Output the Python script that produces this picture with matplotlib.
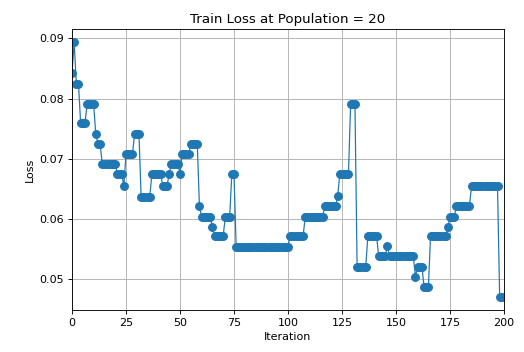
import matplotlib
matplotlib.use('Agg')
import matplotlib.pyplot as plt
import numpy as np

# loss per iteration (rows of 10)
loss = [
    0.0842, 0.0894, 0.0825, 0.0825, 0.0759, 0.0759, 0.0759, 0.0791, 0.0791, 0.0791,
    0.0791, 0.0742, 0.0725, 0.0725, 0.0692, 0.0692, 0.0692, 0.0692, 0.0692, 0.0692,
    0.0692, 0.0675, 0.0675, 0.0675, 0.0655, 0.0708, 0.0708, 0.0708, 0.0708, 0.0742,
    0.0742, 0.0742, 0.0637, 0.0637, 0.0637, 0.0637, 0.0637, 0.0675, 0.0675, 0.0675,
    0.0675, 0.0675, 0.0655, 0.0655, 0.0655, 0.0675, 0.0692, 0.0692, 0.0692, 0.0692,
    0.0675, 0.0708, 0.0708, 0.0708, 0.0708, 0.0725, 0.0725, 0.0725, 0.0725, 0.0621,
    0.0604, 0.0604, 0.0604, 0.0604, 0.0604, 0.0586, 0.0572, 0.0572, 0.0572, 0.0572,
    0.0572, 0.0604, 0.0604, 0.0604, 0.0675, 0.0675, 0.0554, 0.0554, 0.0554, 0.0554,
    0.0554, 0.0554, 0.0554, 0.0554, 0.0554, 0.0554, 0.0554, 0.0554, 0.0554, 0.0554,
    0.0554, 0.0554, 0.0554, 0.0554, 0.0554, 0.0554, 0.0554, 0.0554, 0.0554, 0.0554,
    0.0554, 0.0572, 0.0572, 0.0572, 0.0572, 0.0572, 0.0572, 0.0572, 0.0604, 0.0604,
    0.0604, 0.0604, 0.0604, 0.0604, 0.0604, 0.0604, 0.0604, 0.0621, 0.0621, 0.0621,
    0.0621, 0.0621, 0.0621, 0.0638, 0.0675, 0.0675, 0.0675, 0.0675, 0.0675, 0.0791,
    0.0791, 0.0791, 0.0521, 0.0521, 0.0521, 0.0521, 0.0521, 0.0572, 0.0572, 0.0572,
    0.0572, 0.0572, 0.0538, 0.0538, 0.0538, 0.0538, 0.0555, 0.0538, 0.0538, 0.0538,
    0.0538, 0.0538, 0.0538, 0.0538, 0.0538, 0.0538, 0.0538, 0.0538, 0.0538, 0.0504,
    0.0521, 0.0521, 0.0521, 0.0487, 0.0487, 0.0487, 0.0572, 0.0572, 0.0572, 0.0572,
    0.0572, 0.0572, 0.0572, 0.0572, 0.0586, 0.0604, 0.0604, 0.0604, 0.0622, 0.0622,
    0.0622, 0.0622, 0.0622, 0.0622, 0.0622, 0.0655, 0.0655, 0.0655, 0.0655, 0.0655,
    0.0655, 0.0655, 0.0655, 0.0655, 0.0655, 0.0655, 0.0655, 0.0655, 0.0470, 0.0470,
]
iteration = np.arange(len(loss))

fig = plt.figure(figsize=(524 / 80.0, 352 / 80.0), dpi=80)
ax = fig.add_axes([0.1374, 0.1193, 0.8244, 0.7975])

ax.plot(iteration, loss, color='#1f77b4', marker='o', markersize=7, linewidth=1.1)
ax.set_xlim(0, 200)
ax.set_title('Train Loss at Population = 20')
ax.set_xlabel('Iteration')
ax.set_ylabel('Loss')
ax.grid(True)

fig.savefig('out.png', dpi=80)
